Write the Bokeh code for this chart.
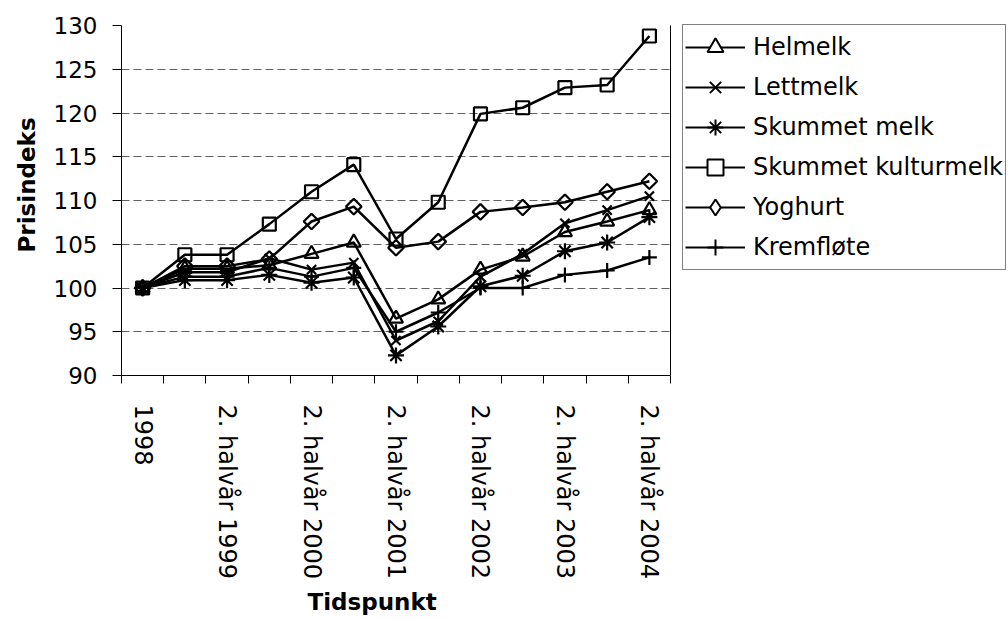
import math
from bokeh.plotting import figure
from bokeh.models import (Range1d, FixedTicker, LinearAxis, Legend, LegendItem,
                          Title, ColumnDataSource)
from bokeh.embed import file_html
from bokeh.resources import INLINE

periods = ["1998",
           "1. halvår 1999", "2. halvår 1999",
           "1. halvår 2000", "2. halvår 2000",
           "1. halvår 2001", "2. halvår 2001",
           "1. halvår 2002", "2. halvår 2002",
           "1. halvår 2003", "2. halvår 2003",
           "1. halvår 2004", "2. halvår 2004"]

helmelk = [100, 102.2, 102.2, 102.6, 103.9, 105.2, 96.5, 98.7, 102.1, 103.6, 106.4, 107.6, 108.9]
lettmelk = [100, 101.8, 101.8, 103.4, 102.1, 102.9, 94.0, 96.2, 101.3, 103.9, 107.4, 108.9, 110.5]
skummet_melk = [100, 100.9, 100.9, 101.5, 100.6, 101.2, 92.3, 95.6, 100.2, 101.4, 104.2, 105.2, 108.1]
skummet_kulturmelk = [100, 103.8, 103.8, 107.3, 111.0, 114.1, 105.6, 109.8, 119.9, 120.6, 122.9, 123.2, 128.8]
yoghurt = [100, 102.5, 102.5, 103.3, 107.6, 109.3, 104.6, 105.3, 108.7, 109.2, 109.8, 111.0, 112.2]
kremflote = [100, 101.3, 101.3, 102.3, 101.3, 102.3, 95.0, 97.2, 100.0, 100.0, 101.5, 102.0, 103.5]

series_names = ["Helmelk", "Lettmelk", "Skummet melk", "Skummet kulturmelk", "Yoghurt", "Kremfløte"]
series_values = [helmelk, lettmelk, skummet_melk, skummet_kulturmelk, yoghurt, kremflote]
markers = ["triangle", "x", "asterisk", "square", "square", "cross"]
angles = [0, 0, 0, 0, math.pi / 4, 0]
marker_sizes = [14, 13, 16, 13, 11, 15]
legend_markers = ["triangle", "x", "asterisk", "square", "diamond", "cross"]
legend_marker_sizes = [10, 10, 11, 10, 14, 12]

y_ticks = [90, 95, 100, 105, 110, 115, 120, 125, 130]

FONT = "DejaVu Sans"

p = figure(frame_width=549, frame_height=350, output_backend="svg", toolbar_location=None,
           x_range=Range1d(-0.5, len(periods) - 0.5), y_range=Range1d(90, 130),
           min_border_left=121, min_border_right=337, min_border_top=25,
           min_border_bottom=239)
p.outline_line_color = None
p.background_fill_color = "white"
p.border_fill_color = "white"

# axes
xs = list(range(len(periods)))
xt = FixedTicker(ticks=xs[::2], minor_ticks=[i - 0.5 for i in range(len(periods) + 1)])
p.xaxis.ticker = xt
p.xaxis.major_label_overrides = {i: periods[i] for i in xs[::2]}
p.xaxis.major_label_orientation = -math.pi / 2
p.xaxis.major_tick_out = 0
p.xaxis.major_tick_in = 0
p.xaxis.minor_tick_out = 8
p.xaxis.minor_tick_in = 0
p.xaxis.minor_tick_line_color = "black"
p.xaxis.major_label_standoff = 21
p.xaxis.major_label_text_font = FONT
p.xaxis.major_label_text_font_size = "24px"
p.xaxis.major_label_text_color = "black"
p.xaxis.axis_line_color = "black"

p.yaxis.ticker = FixedTicker(ticks=y_ticks, minor_ticks=[])
p.yaxis.major_tick_out = 9
p.yaxis.major_tick_in = 0
p.yaxis.major_label_standoff = 15
p.yaxis.major_label_text_font = FONT
p.yaxis.major_label_text_font_size = "23px"
p.yaxis.major_label_text_color = "black"
p.yaxis.axis_line_color = "black"
p.yaxis.major_tick_line_color = "black"

right_axis = LinearAxis(ticker=FixedTicker(ticks=[], minor_ticks=[]),
                        major_tick_line_color=None, minor_tick_line_color=None,
                        axis_line_color="black")
p.add_layout(right_axis, "right")

p.xgrid.grid_line_color = None
p.ygrid.ticker = FixedTicker(ticks=y_ticks[1:])
p.ygrid.grid_line_color = "#606060"
p.ygrid.grid_line_dash = "8 4"
p.ygrid.grid_line_width = 1

items = []
for name, vals, mk, ang, ms, lmk, lms in zip(series_names, series_values, markers, angles,
                                            marker_sizes, legend_markers, legend_marker_sizes):
    src = ColumnDataSource(dict(x=xs, y=vals))
    p.line("x", "y", source=src, line_color="black", line_width=2.5)
    p.scatter("x", "y", source=src, marker=mk, angle=ang, size=ms, line_color="black",
              fill_color=None, line_width=2.2)
    # hidden copies with smaller markers, used only for the legend glyphs
    lr = p.line("x", "y", source=src, line_color="black", line_width=2, visible=False)
    sr = p.scatter("x", "y", source=src, marker=lmk, size=lms,
                   line_color="black", fill_color="white", line_width=2, visible=False)
    items.append(LegendItem(label=name, renderers=[lr, sr]))

legend = Legend(items=items, location=(-208, 105))
legend.label_text_font = FONT
legend.label_text_font_size = "24px"
legend.label_text_color = "black"
legend.glyph_width = 60
legend.glyph_height = 40
legend.label_height = 40
legend.label_standoff = 8
legend.spacing = 0
legend.padding = 2
legend.margin = 0
legend.border_line_color = "black"
legend.border_line_width = 1
legend.background_fill_color = "white"
legend.background_fill_alpha = 1
legend.inactive_fill_alpha = 0
p.add_layout(legend, "right")

# axis titles, placed like the reference's
p.add_layout(Title(text="Tidspunkt", align="left", offset=186, standoff=8,
                   text_font=FONT, text_font_size="23px", text_font_style="bold",
                   text_color="black"), "below")
p.add_layout(Title(text="Prisindeks", align="left", offset=123, standoff=21,
                   text_font=FONT, text_font_size="23px", text_font_style="bold",
                   text_color="black"), "left")

open("out.html", "w").write(file_html(p, INLINE))
